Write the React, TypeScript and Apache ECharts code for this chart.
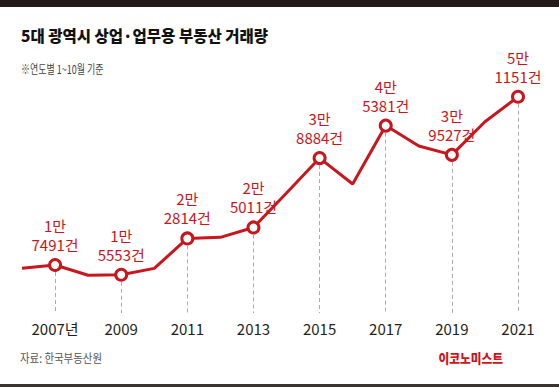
import React, { useEffect, useRef } from "react";
import * as echarts from "echarts";

const years = ["2006", "2007", "2008", "2009", "2010", "2011", "2012", "2013", "2014", "2015", "2016", "2017", "2018", "2019", "2020", "2021"];
const tickLabels = ["", "2007년", "", "2009", "", "2011", "", "2013", "", "2015", "", "2017", "", "2019", "", "2021"];
const volumes = [16830, 17491, 15450, 15553, 16830, 22814, 23030, 25011, 31900, 38884, 33690, 45381, 41290, 39527, 46150, 51151];
const labeledYears = ["2007", "2009", "2011", "2013", "2015", "2017", "2019", "2021"];

const RED = "#c8161e";
const DASH_BOTTOM = 7900;
const NUM_FONT = "'Liberation Sans Narrow', 'Noto Sans CJK KR', sans-serif";
const KR_FONT = "'Noto Sans CJK KR', sans-serif";

export default function App() {
  const ref = useRef<HTMLDivElement>(null);
  useEffect(() => {
    document.body.style.margin = "0";
    const chart = echarts.init(ref.current!, null, { renderer: "svg" });
    const isLabeled = (i: number) => labeledYears.includes(years[i]);
    const markData: any[] = [];
    years.forEach((y, i) => {
      if (isLabeled(i)) {
        markData.push([
          { coord: [i, volumes[i] - 1400] },
          { coord: [i, DASH_BOTTOM] },
        ]);
      }
    });
    chart.setOption({
      animation: false,
      backgroundColor: "#ffffff",
      grid: { left: 22, right: 41, top: 52.5, bottom: 34.5 },
      xAxis: {
        type: "category",
        data: years,
        boundaryGap: false,
        offset: -40,
        axisLine: { show: false },
        axisTick: { show: false },
        splitLine: { show: false },
        axisLabel: {
          interval: (i: number) => tickLabels[i] !== "",
          formatter: (_v: string, i: number) => tickLabels[i],
          margin: 8,
          color: "#231f20",
          fontSize: 15,
          fontFamily: NUM_FONT,
          hideOverlap: false,
        },
      },
      yAxis: { type: "value", min: 0, max: 60000, show: false, splitLine: { show: false } },
      series: [
        {
          type: "line",
          data: volumes,
          showAllSymbol: true,
          symbol: (_v: any, p: any) => (isLabeled(p.dataIndex) ? "circle" : "none"),
          symbolSize: 11,
          lineStyle: { color: RED, width: 3 },
          itemStyle: { color: "#ffffff", borderColor: RED, borderWidth: 3 },
          label: {
            show: true,
            position: "top",
            distance: 4,
            color: RED,
            fontSize: 15,
            lineHeight: 19,
            fontFamily: NUM_FONT,
            formatter: (p: any) => {
              if (!isLabeled(p.dataIndex)) return "";
              const v = p.value as number;
              return `${Math.floor(v / 10000)}만\n${v % 10000}건`;
            },
          },
          markLine: {
            silent: true,
            symbol: ["none", "none"],
            label: { show: false },
            lineStyle: { color: "#aaaaaa", type: [4, 3], width: 1 },
            data: markData,
          },
        },
      ],
      graphic: [
        { type: "rect", left: 0, top: 0, shape: { width: 559, height: 7 }, style: { fill: "#231a17" } },
        { type: "rect", left: 0, top: 384, shape: { width: 559, height: 3 }, style: { fill: "#3a3330" } },
        {
          type: "text", x: 21, y: 35,
          style: { text: "5대 광역시 상업·업무용 부동산 거래량", fill: "#111111", font: `900 15.5px ${KR_FONT}`, textVerticalAlign: "middle" },
        },
        {
          type: "text", x: 21, y: 69, scaleX: 0.75,
          style: { text: "※연도별 1~10월 기준", fill: "#444444", font: `12px ${KR_FONT}`, textVerticalAlign: "middle" },
        },
        {
          type: "text", x: 20, y: 358, scaleX: 0.87,
          style: { text: "자료: 한국부동산원", fill: "#555555", font: `12px ${KR_FONT}`, textVerticalAlign: "middle" },
        },
        {
          type: "text", x: 503, y: 358, scaleX: 0.9,
          style: { text: "이코노미스트", fill: "#d0121b", font: `900 13px ${KR_FONT}`, textAlign: "right", textVerticalAlign: "middle" },
        },
      ],
    });
    return () => chart.dispose();
  }, []);
  return <div ref={ref} style={{ position: "fixed", left: 0, top: 0, width: 559, height: 387 }} />;
}
